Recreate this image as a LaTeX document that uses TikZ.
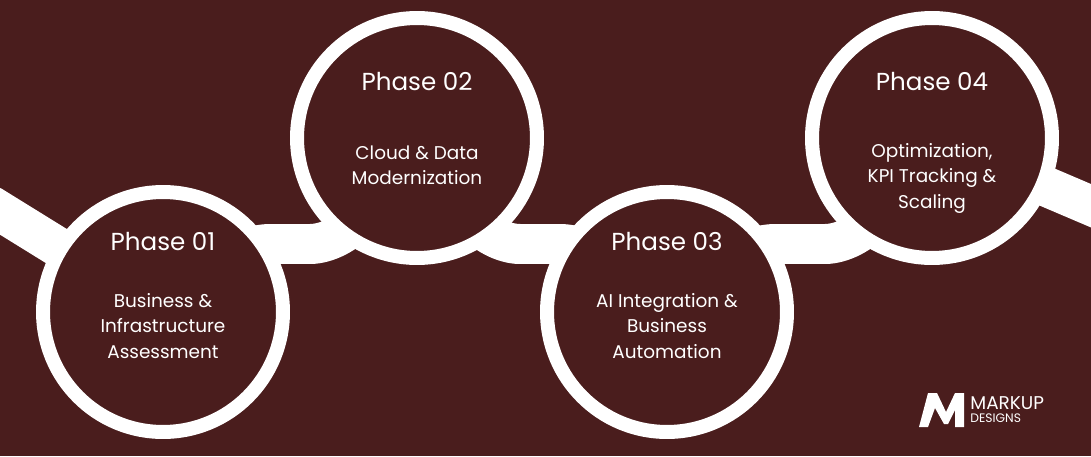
\documentclass[tikz,border=0pt]{standalone}
\usepackage{fontspec}
\setmainfont{Poppins}
\usetikzlibrary{positioning}
\definecolor{maroon}{HTML}{4A1D1D}
\tikzset{
  phase/.style={circle, draw=white, line width=0.28cm, fill=maroon,
    minimum size=4.8cm, inner sep=0pt},
  title/.style={text=white, font=\fontsize{14}{16}\selectfont},
  desc/.style={text=white, align=center, font=\fontsize{10.5}{14.5}\selectfont},
  band/.style={white, line width=0.8cm, line join=round, rounded corners=0.6cm}
}
\begin{document}
\begin{tikzpicture}[x=0.02cm, y=-0.02cm]
    \fill[maroon] (0,0) rectangle (1091,456);
    \useasboundingbox (0,0) rectangle (1091,456);

    % Band anchors
    \coordinate (in) at (-10,205);
    \coordinate (out) at (1101,210);
    \coordinate (c1) at (163,312);
    \coordinate (c2) at (417,138);
    \coordinate (c3) at (667,312);
    \coordinate (c4) at (932,138);
    \draw[band] (in) -- (c1) -- (240,244) -- (340,244) -- (c2)
        -- (490,244) -- (590,244) -- (c3) -- (745,244) -- (855,244) -- (c4) -- (out);

    % Phase circles
    \node[phase] (p1) at (c1) {};
    \node[phase] (p2) at (c2) {};
    \node[phase] (p3) at (c3) {};
    \node[phase] (p4) at (c4) {};

    % Labels
    \node[title] at (163,242) {Phase 01};
    \node[desc] at (163,326) {Business \&\\Infrastructure\\Assessment};
    \node[title] at (417,82) {Phase 02};
    \node[desc] at (417,165) {Cloud \& Data\\Modernization};
    \node[title] at (667,242) {Phase 03};
    \node[desc] at (667,326) {AI Integration \&\\Business\\Automation};
    \node[title] at (932,82) {Phase 04};
    \node[desc] at (932,178) {Optimization,\\KPI Tracking \&\\Scaling};

    % Logo
    \fill[white] (919,427) -- (928,393) -- (937,393) -- (946,412) -- (955,393) -- (964,393)
        -- (964,427) -- (955,427) -- (955,410) -- (948,424) -- (944,424) -- (935,408) -- (928,427) -- cycle;
    \node[text=white, anchor=south west, inner sep=0pt, font=\fontsize{10.5}{10.5}\selectfont] (mk) at (970,410) {MARKUP};
    \node[text=white, anchor=north west, inner sep=0pt, yshift=-2pt, font=\fontsize{7}{7}\selectfont] at (mk.south west) {DESIGNS};
\end{tikzpicture}
\end{document}
